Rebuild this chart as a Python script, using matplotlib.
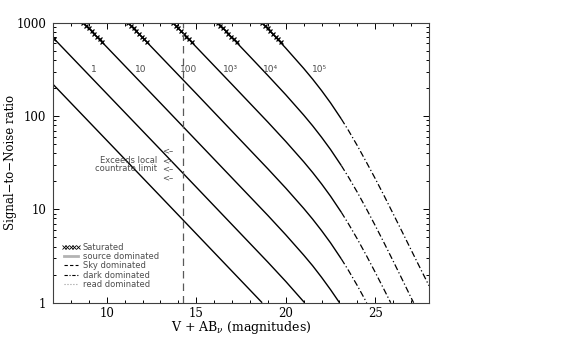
import matplotlib
matplotlib.use('Agg')
import matplotlib.pyplot as plt
from matplotlib.lines import Line2D

plt.rcParams['mathtext.fontset'] = 'dejavuserif'

# curve labels (exposure times) and where they sit
exp_labels = ['1', '10', '100', '10³', '10⁴', '10⁵']
label_mag = [9.1, 11.6, 14.1, 16.5, 18.7, 21.45]
label_sn = [312, 312, 312, 312, 312, 312]

# source dominated part of each curve (solid)
source_mag = [
    [7.0, 13.0, 18.68],
    [7.0, 13.0, 19.0, 20.0, 21.05],
    [8.7, 13.0, 19.0, 20.0, 21.0, 21.5, 22.0, 22.5, 23.0],
    [11.2, 15.0, 19.0, 20.0, 21.0, 21.5, 22.0, 22.5, 23.1],
    [13.7, 17.0, 19.0, 20.0, 21.0, 21.5, 22.0, 22.5, 23.1],
    [16.2, 18.0, 19.0, 20.0, 21.0, 21.5, 22.0, 22.5, 23.1],
    [18.68, 19.0, 20.0, 21.0, 21.5, 22.0, 22.5, 23.1],
]
source_sn = [
    [219, 13.8, 1.0],
    [692, 43.7, 2.72, 1.69, 1.0],
    [1000, 138, 8.61, 5.34, 3.24, 2.49, 1.87, 1.38, 1.0],
    [1000, 174, 27.2, 16.9, 10.25, 7.86, 5.92, 4.38, 2.95],
    [1000, 218, 86.1, 53.4, 32.4, 24.85, 18.73, 13.84, 9.32],
    [1000, 434, 272, 169, 102.5, 78.6, 59.2, 43.8, 29.5],
    [1000, 861, 534, 324, 248.5, 187.3, 138.4, 93.2],
]

# dark dominated part (dash-dot)
dark_mag = [
    [23.1, 23.5, 24.0, 24.52],
    [23.1, 23.5, 24.0, 24.5, 25.0, 25.5, 25.86],
    [23.1, 23.5, 24.0, 24.5, 25.0, 25.5, 26.0, 26.5, 27.0, 27.14],
    [23.1, 23.5, 24.0, 24.5, 25.0, 25.5, 26.0, 26.5, 27.0, 27.5, 28.0],
]
dark_sn = [
    [2.95, 2.22, 1.52, 1.0],
    [9.32, 7.01, 4.80, 3.21, 2.11, 1.37, 1.0],
    [29.5, 22.2, 15.2, 10.16, 6.68, 4.34, 2.79, 1.78, 1.13, 1.0],
    [93.2, 70.1, 48.0, 32.1, 21.3, 13.9, 8.95, 5.75, 3.68, 2.36, 1.52],
]

# saturated points
sat_mag = [
    [7.05],
    [8.70, 8.85, 9.00, 9.15, 9.30, 9.45, 9.60, 9.75],
    [11.20, 11.35, 11.50, 11.65, 11.80, 11.95, 12.10, 12.25],
    [13.70, 13.85, 14.00, 14.15, 14.30, 14.45, 14.60, 14.75],
    [16.20, 16.35, 16.50, 16.65, 16.80, 16.95, 17.10, 17.25],
    [18.68, 18.83, 18.98, 19.13, 19.28, 19.43, 19.58, 19.73],
]
sat_sn = [
    [676],
    [1000, 933, 871, 813, 759, 708, 661, 617],
    [1000, 933, 871, 813, 759, 708, 661, 617],
    [1000, 933, 871, 813, 759, 708, 661, 617],
    [1000, 933, 871, 813, 759, 708, 661, 617],
    [1000, 933, 871, 813, 759, 708, 661, 617],
]

countrate_limit = 14.28
arrow_sn = [42.3, 33.0, 27.1, 21.7]
note_lines = ['Exceeds local', 'countrate limit']
note_sn = [33.0, 27.1]

DASHDOT = (0, (5, 2, 1, 2))

fig = plt.figure(figsize=(5.8, 3.39), dpi=100)
ax = fig.add_axes([0.0914, 0.107, 0.6483, 0.826])

for m, s in zip(source_mag, source_sn):
    ax.plot(m, s, color='k', lw=1.0, solid_capstyle='butt')
for m, s in zip(dark_mag, dark_sn):
    ax.plot(m, s, color='k', lw=0.9, linestyle=DASHDOT)
for m, s in zip(sat_mag, sat_sn):
    ax.plot(m, s, linestyle='none', marker='x', color='k', ms=3.2, mew=0.9)

ax.axvline(countrate_limit, color='0.35', lw=0.9, linestyle=(0, (6, 4)))

for lab, m, s in zip(exp_labels, label_mag, label_sn):
    ax.text(m, s, lab, fontsize=6.5, color='0.3', ha='left', va='center',
            family='DejaVu Sans')

for s in arrow_sn:
    ax.text(13.75, s, '<\u2013', fontsize=6, color='0.3', ha='right', va='center')
for txt, s in zip(note_lines, note_sn):
    ax.text(12.8, s, txt, fontsize=6, color='0.3', ha='right', va='center')

ax.set_yscale('log')
ax.set_xlim(7, 28)
ax.set_ylim(1, 1000)
ax.set_xticks([10, 15, 20, 25])
ax.set_xticks(range(8, 28), minor=True)
ax.set_yticks([1, 10, 100, 1000])
ax.set_yticklabels(['1', '10', '100', '1000'])
ax.tick_params(which='both', direction='in', top=True, right=True,
               labelsize=8.5, width=0.7)
ax.tick_params(which='major', length=4.5)
ax.tick_params(axis='x', which='major', pad=3)
ax.tick_params(axis='y', which='major', pad=5)
ax.tick_params(which='minor', length=2.2)
for lab in ax.get_xticklabels() + ax.get_yticklabels():
    lab.set_family('DejaVu Serif')
for sp in ax.spines.values():
    sp.set_linewidth(0.8)
    sp.set_color('0.25')

ax.set_xlabel(r'V + AB$_\nu$ (magnitudes)', family='DejaVu Serif', fontsize=9)
ax.set_ylabel('Signal\u2212to\u2212Noise ratio', family='DejaVu Serif',
              fontsize=8.5)
ax.xaxis.set_label_coords(0.5, -0.087)
ax.yaxis.set_label_coords(-0.112, 0.5)
ax.xaxis.label.set_va('center')
ax.yaxis.label.set_va('center')

handles = [
    Line2D([], [], linestyle='none', marker='x', color='k', ms=2.2, mew=0.6),
    Line2D([], [], color='0.7', lw=2.0),
    Line2D([], [], color='k', lw=0.8, linestyle=(0, (3, 2))),
    Line2D([], [], color='k', lw=0.8, linestyle=(0, (3, 1.5, 1, 1.5))),
    Line2D([], [], color='0.6', lw=0.8, linestyle=':'),
]
names = ['Saturated', 'source dominated', 'Sky dominated', 'dark dominated',
         'read dominated']
leg = ax.legend(handles, names, loc='lower left', bbox_to_anchor=(0.022, 0.05),
                frameon=False, fontsize=6, numpoints=5, handlelength=2.3,
                handletextpad=0.3, labelspacing=0.02, borderpad=0,
                borderaxespad=0)
for t in leg.get_texts():
    t.set_color('0.3')

fig.savefig('out.png', dpi=100, facecolor='white')
